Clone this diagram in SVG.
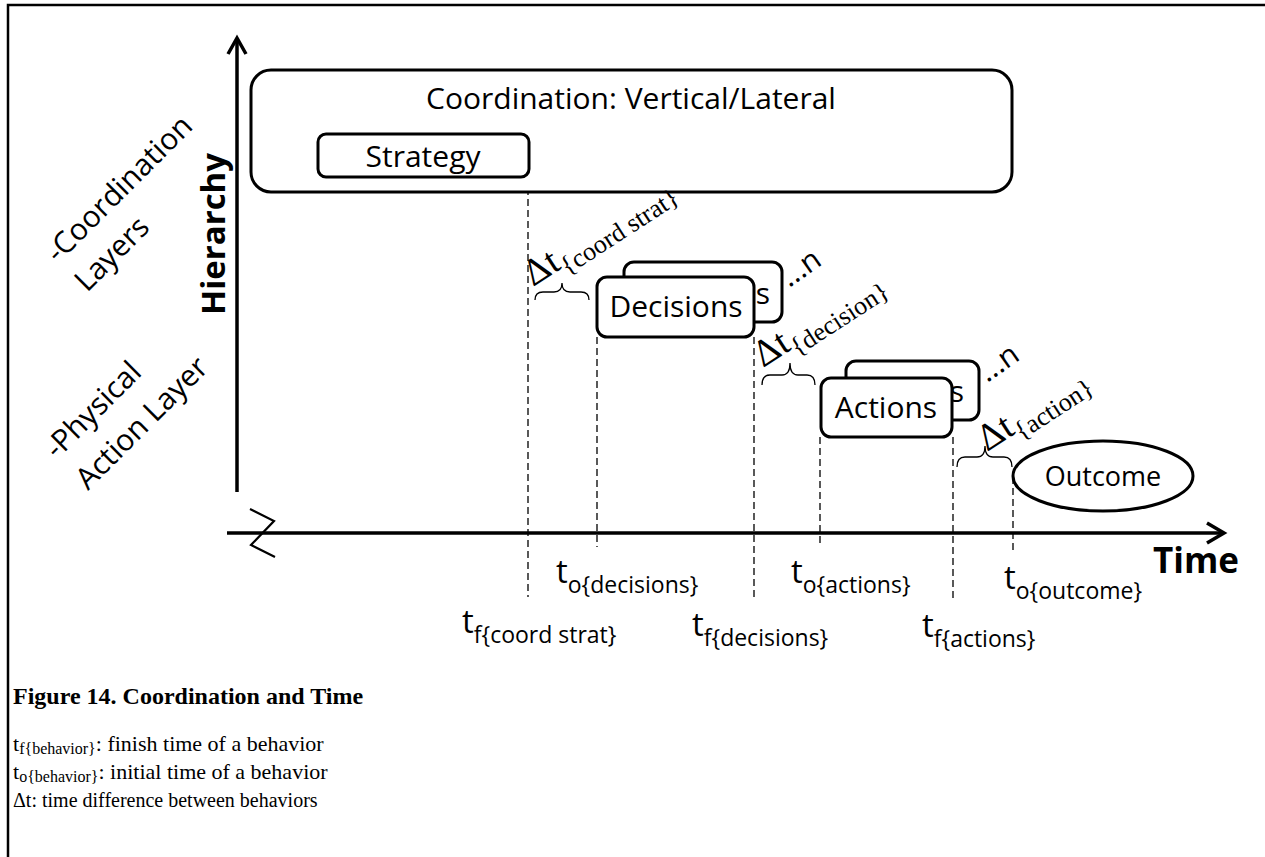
<svg xmlns="http://www.w3.org/2000/svg" width="1265" height="857" viewBox="0 0 1265 857">
  <style>
    .sans { font-family: "Open Sans", "Liberation Sans", sans-serif; fill: #000; }
    .serif { font-family: "Liberation Serif", "Times New Roman", serif; fill: #000; }
    .box { fill: #fff; stroke: #000; stroke-width: 3; }
    .axis { fill: none; stroke: #000; stroke-width: 3.5; }
    .guide { fill: none; stroke: #000; stroke-width: 1.3; stroke-dasharray: 7 4; }
    .brace { fill: none; stroke: #000; stroke-width: 1.3; }
  </style>

  <rect width="1265" height="857" fill="#fff"/>
  <!-- figure frame -->
  <path d="M8,857 V5 H1265" fill="none" stroke="#000" stroke-width="2.5"/>

  <!-- axes -->
  <g id="axes">
    <line class="axis" x1="237" y1="39" x2="237" y2="492"/>
    <polyline class="axis" points="228,54 237,38 246,54"/>
    <line class="axis" x1="227" y1="533" x2="1223" y2="533"/>
    <polyline class="axis" points="1207,523 1224,533 1207,543"/>
    <polyline fill="none" stroke="#000" stroke-width="2.2" points="250,509 274,521 251,545 275,557"/>
    <text class="sans" font-weight="bold" font-size="33" text-anchor="middle" transform="translate(225,234) rotate(-90)">Hierarchy</text>
    <text class="sans" font-weight="bold" font-size="35" x="1153" y="573">Time</text>
  </g>

  <!-- layer labels -->
  <g id="layer-labels" class="sans" font-size="30">
    <text transform="translate(58,264) rotate(-45)">-Coordination</text>
    <text transform="translate(87,293) rotate(-45)">Layers</text>
    <text transform="translate(57,460) rotate(-45)">-Physical</text>
    <text transform="translate(88,491) rotate(-45)">Action Layer</text>
  </g>

  <!-- connectors: dashed time guides and braces -->
  <g id="connectors">
    <line class="guide" x1="528" y1="177" x2="528" y2="597"/>
    <line class="guide" x1="597" y1="337" x2="597" y2="547"/>
    <line class="guide" x1="754" y1="337" x2="754" y2="597"/>
    <line class="guide" x1="820" y1="437" x2="820" y2="547"/>
    <line class="guide" x1="953" y1="437" x2="953" y2="600"/>
    <line class="guide" x1="1013" y1="477" x2="1013" y2="550"/>
    <path class="brace" d="M535,300 Q535,292 543,292 L554,292 Q562,292 562,283 Q562,292 570,292 L581,292 Q589,292 589,300"/>
    <path class="brace" d="M762,385 Q762,375 770,375 L782,375 Q790,375 790,363 Q790,375 798,375 L807,375 Q815,375 815,385"/>
    <path class="brace" d="M957,467 Q957,457 965,457 L977,457 Q985,457 985,446 Q985,457 993,457 L1004,457 Q1012,457 1012,467"/>
  </g>

  <!-- coordination block -->
  <g id="coordination">
    <rect class="box" x="251" y="70" width="761" height="122" rx="20"/>
    <text class="sans" font-size="30" x="631" y="109" text-anchor="middle">Coordination: Vertical/Lateral</text>
  </g>

  <g id="strategy">
    <rect class="box" x="318" y="134" width="211" height="43" rx="8"/>
    <text class="sans" font-size="30" x="423" y="167" text-anchor="middle">Strategy</text>
  </g>

  <!-- decisions stack: back card shows only its trailing letter -->
  <g id="decisions">
    <rect class="box" x="624" y="262" width="158" height="60" rx="10"/>
    <text class="sans" font-size="30" x="770" y="304" text-anchor="end">s</text>
    <rect class="box" x="597" y="277" width="157" height="60" rx="10"/>
    <text class="sans" font-size="30" x="676" y="317" text-anchor="middle">Decisions</text>
    <text class="sans" font-size="30" transform="translate(789,288) rotate(-35)">...n</text>
  </g>

  <!-- actions stack -->
  <g id="actions">
    <rect class="box" x="846" y="361" width="133" height="59" rx="10"/>
    <text class="sans" font-size="30" x="964" y="402" text-anchor="end">s</text>
    <rect class="box" x="821" y="378" width="131" height="59" rx="10"/>
    <text class="sans" font-size="30" x="886" y="418" text-anchor="middle">Actions</text>
    <text class="sans" font-size="30" transform="translate(987,383) rotate(-35)">...n</text>
  </g>

  <g id="outcome">
    <ellipse class="box" cx="1103" cy="476" rx="90" ry="35"/>
    <text class="sans" font-size="27" x="1103" y="486" text-anchor="middle">Outcome</text>
  </g>

  <!-- time differences -->
  <g id="delta-labels" class="serif">
    <text transform="translate(533,287) rotate(-33)"><tspan font-size="38">Δt</tspan><tspan font-size="26" dy="9">{coord strat}</tspan></text>
    <text transform="translate(763,368) rotate(-33)"><tspan font-size="38">Δt</tspan><tspan font-size="26" dy="9">{decision}</tspan></text>
    <text transform="translate(987,452) rotate(-33)"><tspan font-size="38">Δt</tspan><tspan font-size="26" dy="9">{action}</tspan></text>
  </g>

  <!-- time marks -->
  <g id="time-marks" class="sans">
    <text x="556" y="583"><tspan font-size="33">t</tspan><tspan font-size="23" dy="10">o{decisions}</tspan></text>
    <text x="462" y="633"><tspan font-size="33">t</tspan><tspan font-size="23" dy="10">f{coord strat}</tspan></text>
    <text x="692" y="636"><tspan font-size="33">t</tspan><tspan font-size="23" dy="10">f{decisions}</tspan></text>
    <text x="791" y="583"><tspan font-size="33">t</tspan><tspan font-size="23" dy="10">o{actions}</tspan></text>
    <text x="1004" y="589"><tspan font-size="33">t</tspan><tspan font-size="23" dy="10">o{outcome}</tspan></text>
    <text x="922" y="637"><tspan font-size="33">t</tspan><tspan font-size="23" dy="10">f{actions}</tspan></text>
  </g>

  <!-- caption and legend -->
  <g id="caption" class="serif">
    <text x="13" y="704" font-size="24" font-weight="bold">Figure 14. Coordination and Time</text>
    <g font-size="22">
      <text x="13" y="751">t<tspan font-size="16" dy="3">f{behavior}</tspan><tspan dy="-3">: finish time of a behavior</tspan></text>
      <text x="13" y="779">t<tspan font-size="16" dy="3">o{behavior}</tspan><tspan dy="-3">: initial time of a behavior</tspan></text>
      <text x="13" y="807" font-size="20">Δt: time difference between behaviors</text>
    </g>
  </g>
</svg>
